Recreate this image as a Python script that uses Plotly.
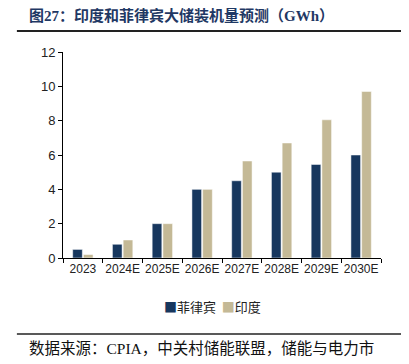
import plotly.graph_objects as go

categories = ["2023", "2024E", "2025E", "2026E", "2027E", "2028E", "2029E", "2030E"]
philippines = [0.5, 0.8, 2.0, 4.0, 4.5, 5.0, 5.45, 6.0]
india = [0.2, 1.05, 2.0, 4.0, 5.65, 6.7, 8.05, 9.7]
y_ticks = [0, 2, 4, 6, 8, 10, 12]
series_names = ["菲律宾", "印度"]

title_text = "图27：印度和菲律宾大储装机量预测（GWh）"
source_text = "数据来源：CPIA，中关村储能联盟，储能与电力市"

navy = "#17375E"
tan = "#C4B996"
sans = "Noto Sans CJK SC, Noto Sans, sans-serif"
tick_font = "Liberation Sans, Arial, sans-serif"
serif = "Liberation Serif, Noto Sans CJK SC, serif"

fig = go.Figure()
fig.add_trace(go.Bar(name=series_names[0], x=categories, y=philippines,
                     marker=dict(color=navy, line=dict(color="white", width=0.5))))
fig.add_trace(go.Bar(name=series_names[1], x=categories, y=india,
                     marker=dict(color=tan, line=dict(color="white", width=0.5))))

# page body has an 8px default margin, so the figure is 8px smaller and offset
fig.update_layout(
    width=401, height=356,
    margin=dict(l=55, r=28, t=44, b=106, autoexpand=False),
    paper_bgcolor="white", plot_bgcolor="white",
    barmode="group", bargap=0.46, bargroupgap=0.1,
    showlegend=False,
    font=dict(family=sans, size=12, color="#222"),
)
fig.update_xaxes(type="category", showline=True, linecolor="black", linewidth=1,
                 ticks="outside", tickson="boundaries", ticklen=4, tickcolor="black",
                 showgrid=False, tickangle=0, automargin=False,
                 tickfont=dict(family=tick_font, size=12, color="#222"))
fig.update_yaxes(range=[0, 12], tickvals=y_ticks, showline=True, linecolor="black",
                 linewidth=1, ticks="outside", ticklen=4, tickcolor="black",
                 showgrid=False, zeroline=False, automargin=False,
                 tickfont=dict(family=tick_font, size=13, color="#222"))

fig.add_shape(type="line", xref="paper", yref="paper", x0=-0.145, x1=1.09, y0=1.102, y1=1.102,
              line=dict(color="#222", width=2))
fig.add_shape(type="line", xref="paper", yref="paper", x0=-0.145, x1=1.09, y0=-0.369, y1=-0.369,
              line=dict(color="#222", width=1.5))

legend_text = (f"<span style='color:{navy}'>■</span>{series_names[0]}  "
               f"<span style='color:{tan}'>■</span>{series_names[1]}")
fig.add_annotation(xref="paper", yref="paper", x=0.47, y=-0.235, xanchor="center", yanchor="middle",
                   text=legend_text, showarrow=False,
                   font=dict(family=sans, size=13, color="#222"))

fig.add_annotation(xref="paper", yref="paper", x=-0.113, y=1.178, xanchor="left", yanchor="middle",
                   text="<b>" + title_text + "</b>", showarrow=False,
                   font=dict(family=serif, size=15, color="#1F3864"))
fig.add_annotation(xref="paper", yref="paper", x=-0.113, y=-0.437, xanchor="left", yanchor="middle",
                   text=source_text, showarrow=False,
                   font=dict(family=serif, size=15.5, color="#111"))

fig.write_html("out.html")
